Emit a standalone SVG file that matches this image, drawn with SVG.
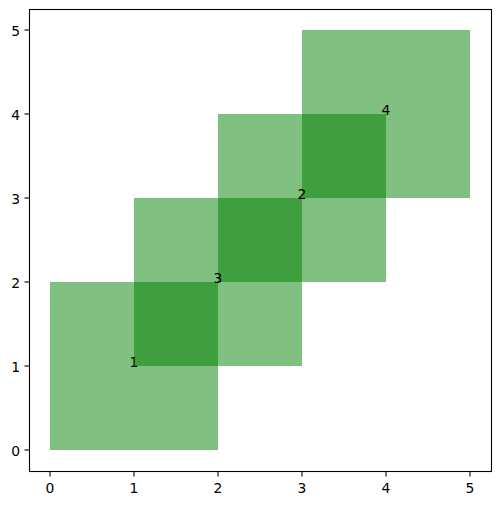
<svg xmlns="http://www.w3.org/2000/svg" width="500" height="505" viewBox="0 0 500 505">
<style>
.sq{fill:#008000;fill-opacity:0.5}
.lbl{font-family:"DejaVu Sans",sans-serif;font-size:13.9px;fill:#000;text-anchor:middle}
.tx{font-family:"DejaVu Sans",sans-serif;font-size:13.9px;fill:#000;text-anchor:middle}
.ty{font-family:"DejaVu Sans",sans-serif;font-size:13.9px;fill:#000;text-anchor:end}
.tick{stroke:#000;stroke-width:1.1}
</style>
<rect width="500" height="505" fill="#fff"/>
<g id="node-1"><rect class="sq" x="50" y="282" width="168" height="168"/><text class="lbl" x="134" y="367">1</text></g>
<g id="node-2"><rect class="sq" x="218" y="114" width="168" height="168"/></g>
<g id="node-3"><rect class="sq" x="134" y="198" width="168" height="168"/></g>
<g id="node-4"><rect class="sq" x="302" y="30" width="168" height="168"/></g>
<g id="labels">
<text class="lbl" x="302" y="199">2</text>
<text class="lbl" x="218" y="283">3</text>
<text class="lbl" x="386" y="115">4</text>
</g>
<g id="axes">
<rect x="29.5" y="9.5" width="462" height="462" fill="none" stroke="#000" stroke-width="1.1"/>
<g class="tick">
<line x1="50" y1="471.5" x2="50" y2="476.5"/>
<line x1="134" y1="471.5" x2="134" y2="476.5"/>
<line x1="218" y1="471.5" x2="218" y2="476.5"/>
<line x1="302" y1="471.5" x2="302" y2="476.5"/>
<line x1="386" y1="471.5" x2="386" y2="476.5"/>
<line x1="470" y1="471.5" x2="470" y2="476.5"/>
<line x1="24.5" y1="450" x2="29.5" y2="450"/>
<line x1="24.5" y1="366" x2="29.5" y2="366"/>
<line x1="24.5" y1="282" x2="29.5" y2="282"/>
<line x1="24.5" y1="198" x2="29.5" y2="198"/>
<line x1="24.5" y1="114" x2="29.5" y2="114"/>
<line x1="24.5" y1="30" x2="29.5" y2="30"/>
</g>
<text class="tx" x="50" y="493">0</text>
<text class="tx" x="134" y="493">1</text>
<text class="tx" x="218" y="493">2</text>
<text class="tx" x="302" y="493">3</text>
<text class="tx" x="386" y="493">4</text>
<text class="tx" x="470" y="493">5</text>
<text class="ty" x="20" y="455.5">0</text>
<text class="ty" x="20" y="371.5">1</text>
<text class="ty" x="20" y="287.5">2</text>
<text class="ty" x="20" y="203.5">3</text>
<text class="ty" x="20" y="119.5">4</text>
<text class="ty" x="20" y="35.5">5</text>
</g>
</svg>
